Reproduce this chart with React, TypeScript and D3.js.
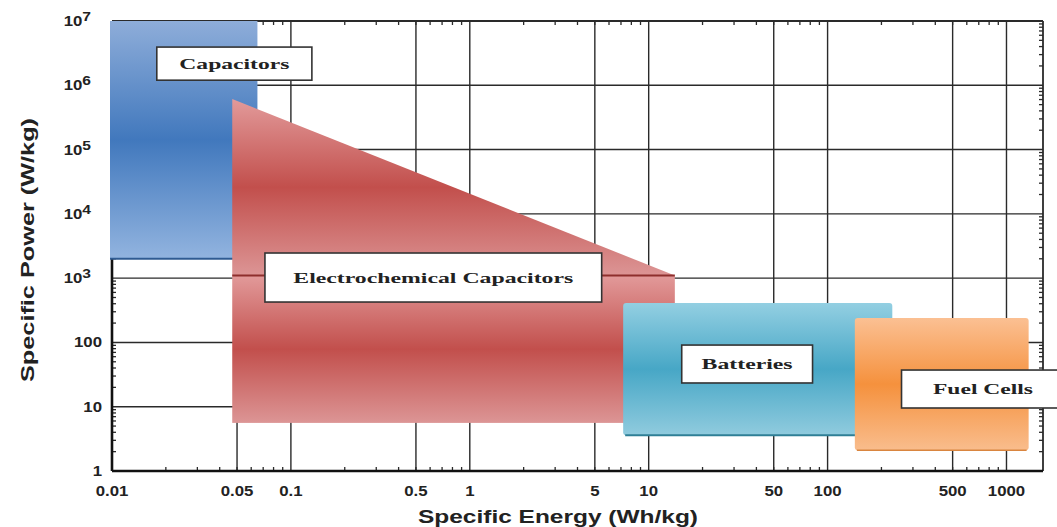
import React from "react";
import * as d3 from "d3";

// ---- data ----
const xTickValues = [0.01, 0.05, 0.1, 0.5, 1, 5, 10, 50, 100, 500, 1000];
const xTickLabels = ["0.01", "0.05", "0.1", "0.5", "1", "5", "10", "50", "100", "500", "1000"];
const yTickValues = [1, 10, 100, 1e3, 1e4, 1e5, 1e6, 1e7];
const yTickBase = ["1", "10", "100", "10", "10", "10", "10", "10"];
const yTickExp = ["", "", "", "3", "4", "5", "6", "7"];

const regionNames = ["Capacitors", "Electrochemical Capacitors", "Batteries", "Fuel Cells"];
const energyMin = [0.01, 0.047, 7.2, 142];
const energyMax = [0.065, 14, 230, 1330];
const powerMin = [2000, 5.6, 3.6, 2.1];
const powerMax = [1e7, 6.1e5, 410, 240];
const ecKneePower = 1100; // EC triangle meets rectangle

// label boxes (data coordinates)
const labelEnergyMin = [0.0178, 0.0716, 15.3, 259];
const labelEnergyMax = [0.131, 5.46, 82.4, 2030];
const labelPowerMin = [1.2e6, 425, 23.4, 9.55];
const labelPowerMax = [3.93e6, 2460, 91, 37.2];
const labelTextWidth = [110, 280, 91, 100];

const W = 1057, H = 527;
const L = 112, R = 1043, T = 21, B = 471;

export default function App() {
  const x = d3.scaleLog().domain([0.01, 1600]).range([L, R]);
  const y = d3.scaleLog().domain([1, 1e7]).range([B, T]);

  const minorX: number[] = [];
  for (let d = -2; d <= 3; d++) for (let k = 2; k <= 9; k++) { const v = k * Math.pow(10, d); if (v < 1600) minorX.push(v); }
  const minorY: number[] = [];
  for (let d = 0; d < 7; d++) for (let k = 2; k <= 9; k++) minorY.push(k * Math.pow(10, d));

  const rect = (i: number) => ({ x: x(energyMin[i]), y: y(powerMax[i]), w: x(energyMax[i]) - x(energyMin[i]), h: y(powerMin[i]) - y(powerMax[i]) });
  const cap = rect(0), bat = rect(2), fuel = rect(3);
  const ecL = x(energyMin[1]), ecR = x(energyMax[1]), ecTop = y(powerMax[1]), ecKnee = y(ecKneePower), ecBot = y(powerMin[1]);
  const tri = d3.line()([[ecL, ecTop], [ecR, ecKnee], [ecL, ecKnee]]) + "Z";

  const grid = "#2a2a2a";
  const tickFont = { fontFamily: "'Liberation Sans', Arial, sans-serif", fontWeight: 700, fontSize: 14, fill: "#222" } as const;

  return (
    <svg width={W} height={H} style={{ position: "absolute", left: 0, top: 0, background: "#fff" }}>
      <defs>
        <linearGradient id="gBlue" x1="0" y1="0" x2="0" y2="1">
          <stop offset="0" stopColor="#8eadd9" />
          <stop offset="0.5" stopColor="#4178bd" />
          <stop offset="1" stopColor="#92b4df" />
        </linearGradient>
        <linearGradient id="gRed" x1="0" y1="0" x2="0" y2="1">
          <stop offset="0" stopColor="#e29a9a" />
          <stop offset="0.5" stopColor="#c24f4c" />
          <stop offset="1" stopColor="#dc9595" />
        </linearGradient>
        <linearGradient id="gCyan" x1="0" y1="0" x2="0" y2="1">
          <stop offset="0" stopColor="#93cfe2" />
          <stop offset="0.5" stopColor="#47a7c6" />
          <stop offset="1" stopColor="#90cbde" />
        </linearGradient>
        <linearGradient id="gOrange" x1="0" y1="0" x2="0" y2="1">
          <stop offset="0" stopColor="#fbc093" />
          <stop offset="0.5" stopColor="#f5913d" />
          <stop offset="1" stopColor="#f9bd8d" />
        </linearGradient>
      </defs>

      {/* grid */}
      {xTickValues.slice(1).map((v) => (
        <line key={"gx" + v} x1={x(v)} x2={x(v)} y1={T} y2={B} stroke={grid} strokeWidth={1.4} />
      ))}
      {yTickValues.slice(1, -1).map((v) => (
        <line key={"gy" + v} x1={L} x2={R} y1={y(v)} y2={y(v)} stroke={grid} strokeWidth={1.4} />
      ))}
      {/* minor ticks */}
      {minorX.map((v) => (
        <g key={"mx" + v}>
          <line x1={x(v)} x2={x(v)} y1={B} y2={B - 4} stroke={grid} strokeWidth={1.3} />
          <line x1={x(v)} x2={x(v)} y1={T} y2={T + 4} stroke={grid} strokeWidth={1.3} />
        </g>
      ))}
      {minorY.map((v) => (
        <g key={"my" + v}>
          <line x1={L} x2={L + 4} y1={y(v)} y2={y(v)} stroke={grid} strokeWidth={1.3} />
          <line x1={R} x2={R - 4} y1={y(v)} y2={y(v)} stroke={grid} strokeWidth={1.3} />
        </g>
      ))}
      {/* frame */}
      <line x1={L} x2={R} y1={T} y2={T} stroke={grid} strokeWidth={1.8} />
      <line x1={R} x2={R} y1={T} y2={B} stroke={grid} strokeWidth={1.8} />
      <line x1={L} x2={R} y1={B} y2={B} stroke="#111" strokeWidth={2.6} />
      <line x1={L} x2={L} y1={T} y2={B} stroke="#111" strokeWidth={2.6} />

      {/* regions */}
      <rect x={cap.x - 2} y={cap.y} width={cap.w + 2} height={cap.h} fill="url(#gBlue)" />
      <line x1={cap.x - 2} x2={cap.x + cap.w} y1={cap.y + cap.h} y2={cap.y + cap.h} stroke="#2f5b92" strokeWidth={2} />

      <path d={tri} fill="url(#gRed)" />
      <rect x={ecL} y={ecKnee} width={ecR - ecL} height={ecBot - ecKnee} fill="url(#gRed)" />
      <line x1={ecL} x2={ecR} y1={ecKnee} y2={ecKnee} stroke="#8e2f2d" strokeWidth={2} />

      <rect x={bat.x} y={bat.y} width={bat.w} height={bat.h} rx={3} fill="url(#gCyan)" />
      <line x1={bat.x + 2} x2={bat.x + bat.w - 2} y1={bat.y + bat.h} y2={bat.y + bat.h} stroke="#2f7f96" strokeWidth={2} />

      <rect x={fuel.x} y={fuel.y} width={fuel.w} height={fuel.h} rx={3} fill="url(#gOrange)" />
      <line x1={fuel.x + 2} x2={fuel.x + fuel.w - 2} y1={fuel.y + fuel.h} y2={fuel.y + fuel.h} stroke="#d9853f" strokeWidth={1.5} />

      {/* label boxes */}
      {regionNames.map((n, i) => {
        const bx = x(labelEnergyMin[i]), bx2 = x(labelEnergyMax[i]);
        const by = y(labelPowerMax[i]), by2 = y(labelPowerMin[i]);
        return (
          <g key={n}>
            <rect x={bx} y={by} width={bx2 - bx} height={by2 - by} fill="#fff" stroke="#333" strokeWidth={1.6} />
            <text
              x={i === 3 ? 983 : (bx + bx2) / 2}
              y={(by + by2) / 2 + 5}
              textAnchor="middle"
              textLength={labelTextWidth[i]}
              lengthAdjust="spacingAndGlyphs"
              style={{ fontFamily: "'Liberation Serif', 'Times New Roman', serif", fontWeight: 700, fontSize: 15, fill: "#222" }}
            >
              {n}
            </text>
          </g>
        );
      })}

      {/* x tick labels */}
      {xTickValues.map((v, i) => (
        <text key={"xl" + v} transform={`translate(${x(v)},${B + 25}) scale(1.2,1)`} textAnchor="middle" style={tickFont}>
          {xTickLabels[i]}
        </text>
      ))}
      {/* y tick labels */}
      {yTickValues.map((v, i) => (
        <text key={"yl" + v} transform={`translate(${yTickExp[i] ? 91 : 102},${y(v) + 5}) scale(1.2,1)`} textAnchor="end" style={tickFont}>
          {yTickBase[i]}
          {yTickExp[i] ? (
            <tspan dy={-5} style={{ fontSize: 13 }}>{yTickExp[i]}</tspan>
          ) : null}
        </text>
      ))}

      {/* axis titles */}
      <text x={558} y={523} textAnchor="middle" textLength={280} lengthAdjust="spacingAndGlyphs"
        style={{ fontFamily: "'Liberation Sans', Arial, sans-serif", fontWeight: 700, fontSize: 18, fill: "#222" }}>
        Specific Energy (Wh/kg)
      </text>
      <text transform="translate(34,250) rotate(-90)" textAnchor="middle" textLength={264} lengthAdjust="spacingAndGlyphs"
        style={{ fontFamily: "'Liberation Sans', Arial, sans-serif", fontWeight: 700, fontSize: 18, fill: "#222" }}>
        Specific Power (W/kg)
      </text>
    </svg>
  );
}
